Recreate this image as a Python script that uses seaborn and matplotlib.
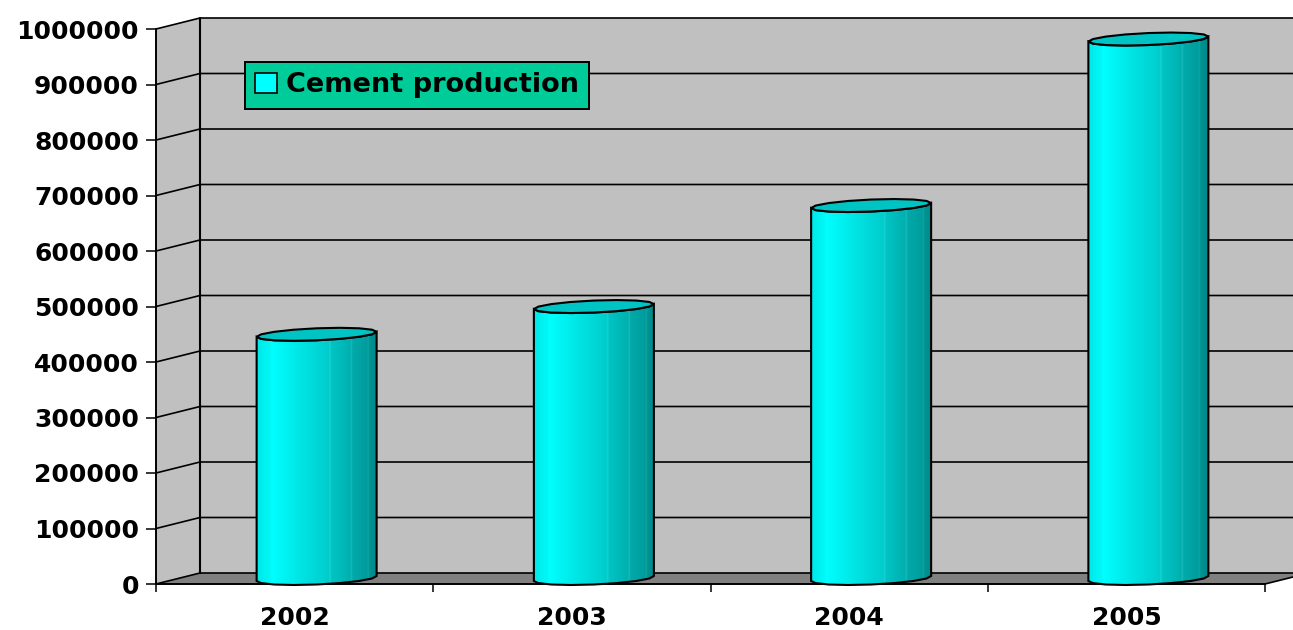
import numpy as np
import pandas as pd
import seaborn as sns
import matplotlib.pyplot as plt
from matplotlib.colors import LinearSegmentedColormap
from matplotlib.patches import Patch, Polygon

years = ["2002", "2003", "2004", "2005"]
production = [440000, 490000, 672000, 972000]
y_ticks = [0, 100000, 200000, 300000, 400000, 500000, 600000, 700000, 800000, 900000, 1000000]
series_name = "Cement production"

sns.set_theme(style="white")
plt.rcParams["font.family"] = ["DejaVu Sans"]
plt.rcParams["font.weight"] = "bold"

W, H = 1293, 630
fig = plt.figure(figsize=(W / 100, H / 100), dpi=100)
ax = fig.add_axes([156 / W, 1 - 584 / H, 1109 / W, 555 / H])

df = pd.DataFrame({"year": years, "production": production})
sns.barplot(data=df, x="year", y="production", color="#00e0e0", width=0.433, ax=ax, zorder=3)
bars = list(ax.containers[0])

ax.set_xlim(-0.5, 3.5)
ax.set_ylim(0, 1000000)

# one category is 277.25 px, 1000000 is 555 px
px_x = 4 / 1109
px_y = 1000000 / 555
dx = 44 * px_x
dy = 11 * px_y

# walls and floor
ax.add_patch(Polygon([(-0.5, 0), (-0.5 + dx, dy), (-0.5 + dx, 1000000 + dy), (-0.5, 1000000)],
                     fc="#c0c0c0", ec="none", zorder=0, clip_on=False))
ax.add_patch(Polygon([(-0.5 + dx, dy), (3.6, dy), (3.6, 1000000 + dy), (-0.5 + dx, 1000000 + dy)],
                     fc="#c0c0c0", ec="none", zorder=0, clip_on=False))
ax.add_patch(Polygon([(-0.5, 0), (3.5, 0), (3.5 + dx, dy), (-0.5 + dx, dy)],
                     fc="#808080", ec="none", zorder=1, clip_on=False))

# gridlines, back wall then side wall
for v in y_ticks:
    ax.plot([-0.5, -0.5 + dx, 3.6], [v, v + dy, v + dy], color="black", lw=1.2,
            zorder=1.5, clip_on=False, solid_joinstyle="miter")
ax.plot([-0.5 + dx] * 2, [dy, 1000000 + dy], color="black", lw=1.5, zorder=1.5, clip_on=False)
ax.plot([3.5, 3.5 + dx], [0, dy], color="black", lw=1.2, zorder=1.5, clip_on=False)

# cylinder shading, left to right, faint seams included
cyl = LinearSegmentedColormap.from_list("cyl", [
    (0.0, "#00e8e8"), (0.11, "#00f8f8"), (0.12, "#00ffff"), (0.35, "#00e6e6"), (0.6, "#00cccc"),
    (0.61, "#20d0d0"), (0.62, "#00c4c4"), (0.78, "#00b0b0"), (0.79, "#20baba"), (0.8, "#00aaaa"),
    (0.92, "#009c9c"), (0.93, "#10a4a4"), (0.94, "#009494"), (1.0, "#008888")])
shade = np.linspace(0, 1, 240).reshape(1, -1)

# the rims are faceted in the original, not smooth
front = np.linspace(np.pi, 2 * np.pi, 9)
whole = np.linspace(0, 2 * np.pi, 17)[:-1]


def rim(cx, cy, angles):
    xs = cx + 60 * px_x * np.cos(angles)
    ys = cy + (2.5 * np.cos(angles) + 6 * np.sin(angles)) * px_y
    return np.column_stack([xs, ys])


for bar in bars:
    cx = bar.get_x() + bar.get_width() / 2 + dx / 2
    val = bar.get_height()
    base = dy / 2
    bar.set_visible(False)
    top_front = rim(cx, val + base, front)
    bottom_front = rim(cx, base, front)
    body = Polygon(np.vstack([bottom_front, top_front[::-1]]), closed=True, fc="none",
                   ec="black", lw=1.5, zorder=5, clip_on=False)
    ax.add_patch(body)
    img = ax.imshow(shade, cmap=cyl, aspect="auto", zorder=4, vmin=0, vmax=1,
                    extent=[cx - 60 * px_x, cx + 60 * px_x, 0, val + base + 6 * px_y])
    img.set_clip_path(body)
    ax.add_patch(Polygon(rim(cx, val + base, whole), fc="#00c4c4",
                         ec="black", lw=1.5, zorder=6, clip_on=False))

ax.set_xlim(-0.5, 3.5)
ax.set_ylim(0, 1000000)
ax.set_xlabel("")
ax.set_ylabel("")

sns.despine(ax=ax, top=True, right=True)
for side in ["left", "bottom"]:
    ax.spines[side].set_linewidth(1.4)
    ax.spines[side].set_color("black")
    ax.spines[side].set_zorder(2)

ax.set_yticks(y_ticks)
ax.set_yticklabels([str(v) for v in y_ticks], fontsize=18, fontweight="bold", color="black")
ax.tick_params(axis="y", left=True, length=7.2, width=1.1, color="black", pad=5)

ax.set_xticks(np.arange(-0.5, 4, 1))
ax.set_xticklabels([])
ax.set_xticks(range(len(years)), labels=years, minor=True, fontsize=18, fontweight="bold", color="black")
ax.tick_params(axis="x", which="major", bottom=True, length=6, width=1.1, color="black")
ax.tick_params(axis="x", which="minor", bottom=False, length=0, pad=16)

leg = ax.legend(handles=[Patch(fc="#00ffff", ec="black", lw=1.2, label=series_name)],
                loc="upper left", bbox_to_anchor=(245 / W, 1 - 62 / H),
                bbox_transform=fig.transFigure, frameon=True, fancybox=False, framealpha=1,
                facecolor="#00cc99", edgecolor="black", fontsize=19.5, borderaxespad=0,
                handlelength=0.8, handleheight=0.8, handletextpad=0.32, borderpad=0.38)
leg.get_frame().set_linewidth(1.4)
leg.set_zorder(8)
leg.get_texts()[0].set_fontweight("bold")
leg.get_texts()[0].set_color("black")

fig.savefig("out.png", dpi=100, facecolor="white")
